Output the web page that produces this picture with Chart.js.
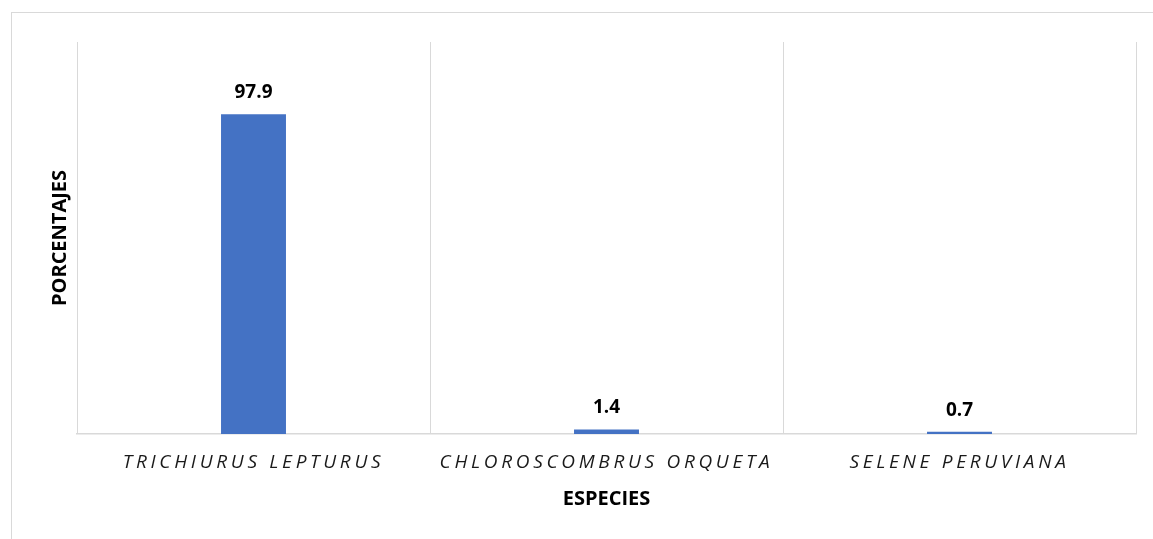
<!DOCTYPE html>
<html>
<head>
<meta charset="utf-8">
<script src="https://cdn.jsdelivr.net/npm/chart.js@4"></script>
<style>
  body { margin: 0; background: #fff; }
  .wrap { position: relative; width: 1153px; height: 539px; overflow: hidden; }
  .frame { position: absolute; left: 11px; top: 12px; width: 1200px; height: 600px; border: 1px solid #d9d9d9; }
  canvas { position: absolute; left: 0; top: 0; }
</style>
</head>
<body>
<div class="wrap">
  <div class="frame"></div>
  <canvas id="myChart" width="1153" height="539"></canvas>
</div>
<script>
const species = ['TRICHIURUS LEPTURUS', 'CHLOROSCOMBRUS ORQUETA', 'SELENE PERUVIANA']
const percentages = [97.9, 1.4, 0.7]
const xTitle = 'ESPECIES'
const yTitle = 'PORCENTAJES'

const ctx = document.getElementById('myChart');

// labels above the bars
const barLabels = {
    id: 'barLabels',
    afterDatasetsDraw(chart) {
        const c = chart.ctx;
        const meta = chart.getDatasetMeta(0);
        c.save();
        c.font = 'bold 19px "Open Sans"';
        c.fillStyle = '#000';
        c.textAlign = 'center';
        c.textBaseline = 'alphabetic';
        meta.data.forEach((bar, i) => {
            c.fillText(percentages[i].toFixed(1), bar.x, bar.y - 16);
        });
        c.restore();
    }
}

// spread out the category letters
const spacedTicks = {
    id: 'spacedTicks',
    afterLayout(chart) {
        const sx = chart.scales.x;
        if (sx._spaced) return;
        const orig = sx.drawLabels;
        sx.drawLabels = function (area) {
            chart.ctx.save();
            chart.ctx.letterSpacing = '3.7px';
            orig.call(this, area);
            chart.ctx.restore();
        };
        sx._spaced = true;
    }
}

new Chart(ctx, {
    type: 'bar',
    data: {
        labels: species,
        datasets: [{
            data: percentages,
            backgroundColor: '#4472C4',
            borderWidth: 0,
            categoryPercentage: 1,
            barPercentage: 0.184
        }]
    },
    options: {
        responsive: false,
        animation: false,
        layout: {
            padding: { top: 42, right: 17, bottom: 28, left: 45 }
        },
        plugins: {
            legend: { display: false },
            tooltip: { enabled: false }
        },
        scales: {
            x: {
                afterFit(scale) {
                    scale.height = 77;
                    scale.paddingLeft = 0;
                    scale.paddingRight = 0;
                },
                grid: { display: true, color: '#d9d9d9', lineWidth: 1, drawTicks: false, offset: true },
                border: { display: true, color: '#d9d9d9', width: 1.5 },
                ticks: {
                    padding: 17,
                    color: '#1a1a1a',
                    maxRotation: 0,
                    autoSkip: false,
                    font: { family: '"Open Sans"', size: 19, style: 'italic' }
                },
                title: {
                    display: true,
                    text: xTitle,
                    color: '#000',
                    padding: { top: 0, bottom: 0 },
                    font: { family: '"Open Sans"', size: 20, weight: 'bold' }
                }
            },
            y: {
                min: 0,
                max: 120,
                afterFit(scale) {
                    scale.width = 32;
                },
                grid: { display: false },
                border: { display: false },
                ticks: { display: false },
                title: {
                    display: true,
                    text: yTitle,
                    color: '#000',
                    padding: { top: 3, bottom: 0 },
                    font: { family: '"Open Sans"', size: 20, weight: 'bold' }
                }
            }
        }
    },
    plugins: [barLabels, spacedTicks]
});
</script>
</body>
</html>
